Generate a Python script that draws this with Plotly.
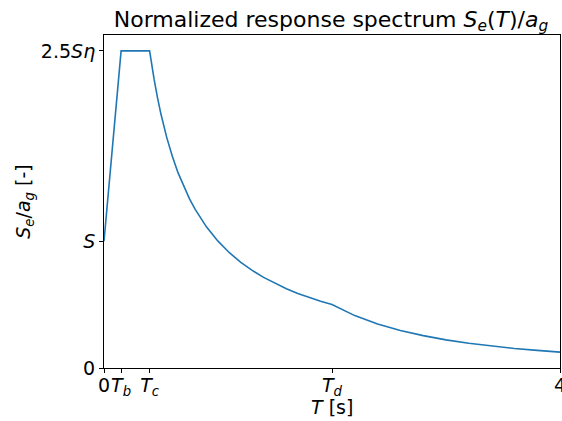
import plotly.graph_objects as go

# Period T [s] and normalized spectral acceleration Se/ag (S=1, eta=1, Tb=0.15, Tc=0.4, Td=2.0)
period = [0.0, 0.15, 0.40, 0.42, 0.44, 0.47, 0.50, 0.55, 0.60, 0.65, 0.70, 0.75, 0.80, 0.90,
          1.00, 1.10, 1.20, 1.30, 1.40, 1.50, 1.60, 1.70, 1.80, 1.90, 2.00,
          2.20, 2.40, 2.60, 2.80, 3.00, 3.20, 3.40, 3.60, 3.80, 4.00]
se_ag = [1.0, 2.5, 2.5, 2.381, 2.273, 2.128, 2.0, 1.818, 1.667, 1.538, 1.429, 1.333, 1.25, 1.111,
         1.0, 0.909, 0.833, 0.769, 0.714, 0.667, 0.625, 0.588, 0.556, 0.526, 0.5,
         0.413, 0.347, 0.296, 0.255, 0.222, 0.195, 0.173, 0.154, 0.139, 0.125]

x_tickvals = [0, 0.15, 0.40, 2.0, 4.0]
x_ticktext = ["0", "<i>T</i><sub><i>b</i></sub>", "<i>T</i><sub><i>c</i></sub>",
              "<i>T</i><sub><i>d</i></sub>", "4"]
y_tickvals = [0, 1.0, 2.5]
y_ticktext = ["0", "<i>S</i>", "2.5<i>Sη</i>"]

FONT = "DejaVu Sans"

fig = go.Figure()
fig.add_trace(go.Scatter(x=period, y=se_ag, mode="lines",
                         line=dict(color="#1f77b4", width=1.6), showlegend=False,
                         hoverinfo="skip"))

axis_common = dict(showgrid=False, zeroline=False, showline=True, linecolor="black",
                   linewidth=1, mirror=True, ticks="outside", ticklen=4, tickwidth=1,
                   tickcolor="black", automargin=False, ticklabeloverflow="allow",
                   tickangle=0,
                   tickfont=dict(family=FONT, size=19, color="black"))

fig.update_layout(
    width=562, height=421,
    margin=dict(l=104, r=2, t=35, b=53, autoexpand=False),
    paper_bgcolor="white", plot_bgcolor="white",
    font=dict(family=FONT, color="black"),
    title=dict(text="Normalized response spectrum <i>S</i><sub><i>e</i></sub>(<i>T</i>)/<i>a</i><sub><i>g</i></sub>",
               x=331 / 562, xanchor="center", xref="container",
               y=1 - 19 / 421, yanchor="middle", yref="container", automargin=False,
               font=dict(family=FONT, size=22, color="black")),
    xaxis=dict(range=[0, 4], tickvals=x_tickvals, ticktext=x_ticktext,
               ticklabelstandoff=-4, **axis_common),
    yaxis=dict(range=[0, 2.625], tickvals=y_tickvals, ticktext=y_ticktext, **axis_common),
    annotations=[
        dict(text="<i>T</i> [s]", xref="paper", yref="paper", x=0.5, y=-0.118,
             xanchor="center", yanchor="middle", showarrow=False,
             font=dict(family=FONT, size=19, color="black")),
        dict(text="<i>S</i><sub><i>e</i></sub>/<i>a</i><sub><i>g</i></sub> [-]",
             xref="paper", yref="paper", x=-0.175, y=0.5, textangle=-90,
             xanchor="center", yanchor="middle", showarrow=False,
             font=dict(family=FONT, size=19, color="black")),
    ],
)

fig.write_html("out.html", config={"displayModeBar": False},
               post_script="document.body.style.margin='0';document.body.style.overflow='hidden';")
